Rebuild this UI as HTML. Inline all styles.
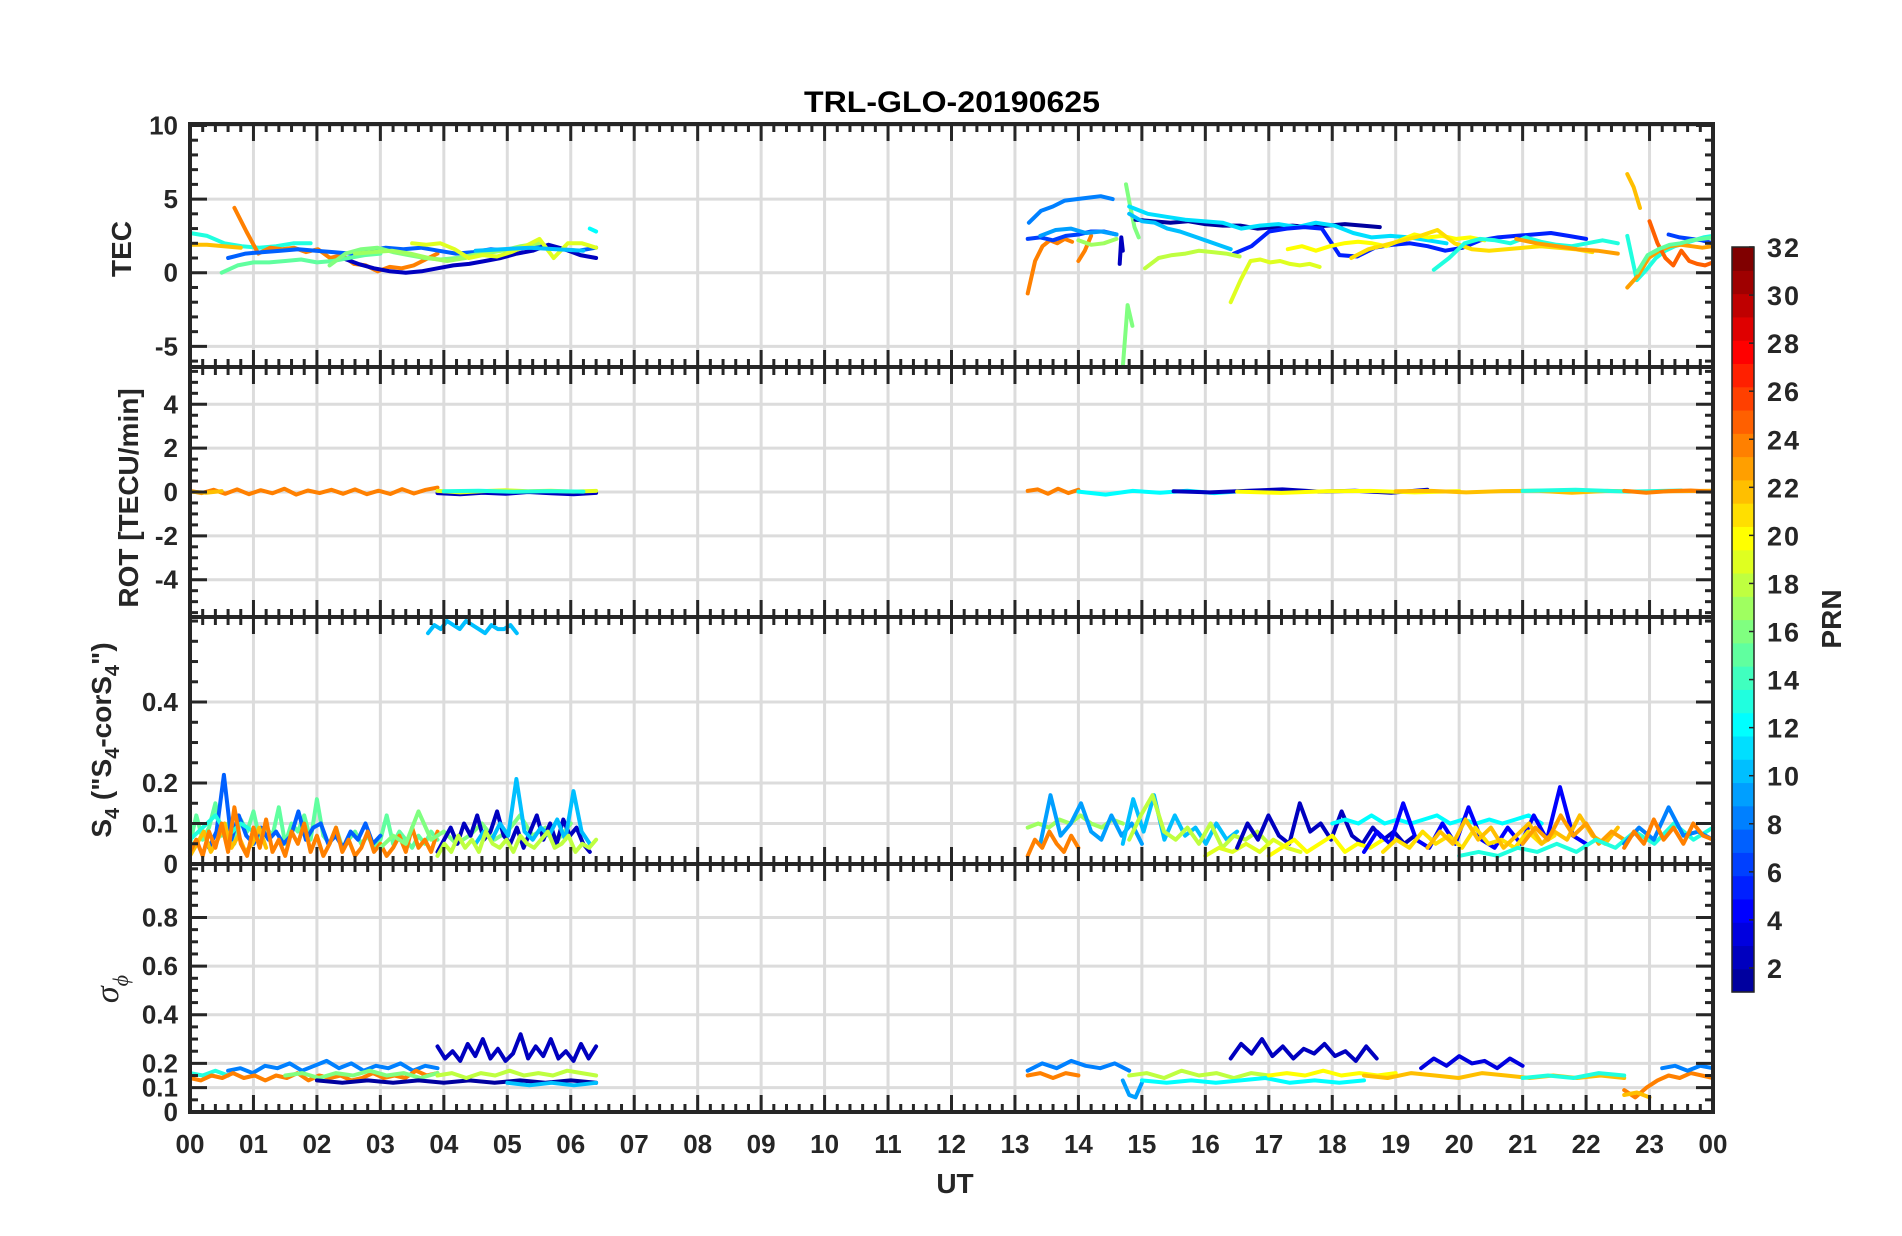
<!DOCTYPE html>
<html><head><meta charset="utf-8"><title>TRL-GLO-20190625</title>
<style>
html,body{margin:0;padding:0;background:#fff;}
svg{display:block;font-family:"Liberation Sans",Arial,sans-serif;}
</style></head>
<body>
<svg id="chart" width="1902" height="1236" viewBox="0 0 1902 1236" xmlns="http://www.w3.org/2000/svg">
<text x="952" y="112" text-anchor="middle" font-size="30" font-weight="bold" fill="#000" textLength="296" lengthAdjust="spacingAndGlyphs">TRL-GLO-20190625</text>
<g id="layers"></g>
</svg>
<script>
// ---------- data ----------
const hourTicks = ["00","01","02","03","04","05","06","07","08","09","10","11","12","13","14","15","16","17","18","19","20","21","22","23","00"];
const cbTicks = [2,4,6,8,10,12,14,16,18,20,22,24,26,28,30,32];

// TEC panel
const tecPrn   = [13,22,24,7,2,15,16,17,19,12,10, 8,24,24,6,9,17,16,16,2,1,10,11,5,18,19,20,21,13,23,22,13,23,25,6,15];
const tecStart = [0,0,0.7,0.6,2.4,0.5,2.2,2.6,3.5,6.3,4.5, 13.22,13.2,14.0,13.2,13.4,14.0,14.75,14.7,14.65,14.9,14.8,14.8,16.45,15.05,16.4,17.3,18.3,19.6,20.9,22.65,22.65,22.65,23.0,23.3,22.8];
const tecEnd   = [1.9,0.8,3.9,6.4,6.4,3.0,4.7,5.5,6.4,6.4,6.2, 14.54,13.9,14.2,14.6,14.6,14.6,14.95,14.85,14.7,18.75,16.4,19.8,22.0,16.54,17.8,20.4,22.1,22.5,22.5,22.85,24,24,24,24,24];
const tecVals = [
 [2.7,2.5,2.0,1.8,1.7,1.8,2.0,2.0],
 [1.9,1.9,1.8,1.7],
 [4.4,2.8,1.3,1.7,1.6,1.7,1.4,1.6,1.0,1.2,0.6,0.5,0.1,0.4,0.3,0.5,0.9,1.3],
 [1.0,1.3,1.4,1.5,1.6,1.5,1.4,1.3,1.5,1.7,1.6,1.7,1.5,1.3,1.4,1.6,1.5,1.7,1.8,1.6,1.5,1.7],
 [1.0,0.6,0.3,0.1,0.0,0.1,0.3,0.5,0.6,0.8,1.0,1.3,1.5,1.9,1.6,1.2,1.0],
 [0.0,0.5,0.7,0.7,0.8,0.9,0.7,0.8,1.0,1.2,1.3],
 [0.5,1.3,1.6,1.7,1.4,1.2,1.0,0.9,1.0,1.2,1.4],
 [1.3,1.4,1.5,1.3,1.0,0.8,1.0,1.3,1.5,1.8,2.0],
 [2.0,1.9,2.0,1.6,1.0,1.2,1.1,1.4,1.8,2.3,1.0,2.0,2.0,1.7],
 [3.0,2.8],
 [1.5,1.6,1.7,1.6,1.5],
 [3.4,4.2,4.5,4.9,5.0,5.1,5.2,5.0],
 [-1.4,0.8,1.8,2.2,2.0,2.3,2.1],
 [0.8,1.5,2.5],
 [2.3,2.4,2.2,2.5,2.6,2.8,2.8,2.6],
 [2.5,2.9,3.0,2.7,2.8,2.6],
 [2.2,1.9,2.0,2.3],
 [6.0,4.5,3.1,2.4],
 [-6.6,-2.2,-3.6],
 [0.6,2.4,1.5],
 [3.6,3.5,3.4,3.5,3.3,3.2,3.2,3.0,3.1,3.2,3.1,3.2,3.3,3.2,3.1],
 [4.0,3.5,3.4,3.0,2.8,2.5,2.2,1.9,1.6],
 [4.5,4.0,3.8,3.6,3.5,3.4,3.0,3.2,3.3,3.1,3.4,3.2,2.7,2.4,2.5,2.4,2.2,2.0],
 [1.3,1.8,2.8,3.0,3.1,3.0,1.2,1.1,1.7,1.9,2.0,1.8,1.5,1.7,2.2,2.4,2.5,2.6,2.7,2.5,2.3],
 [0.3,1.0,1.2,1.3,1.5,1.4,1.3,1.1],
 [-2.0,-0.5,0.8,0.9,0.7,0.8,0.6,0.5,0.6,0.4],
 [1.6,1.8,1.5,1.8,2.0,2.1,2.0,1.8,2.2,2.6,2.4,2.5,2.3,2.4,2.2],
 [1.0,1.6,1.9,2.2,2.5,2.9,2.0,1.6,1.5,1.6,1.7,1.8,1.7,1.6,1.4],
 [0.2,1.0,2.0,2.3,2.2,2.0,2.4,2.1,1.9,1.8,2.0,2.2,2.0],
 [2.3,2.0,1.8,1.6,1.5,1.3],
 [6.7,5.8,4.4],
 [2.5,-0.5,0.2,1.0,1.5,1.8,2.0,2.2,2.4,2.5],
 [-1.0,-0.2,1.0,1.5,1.8,1.9,1.8,1.7,1.8],
 [3.5,2.0,1.0,0.5,1.5,0.8,0.6,0.5,0.7],
 [2.6,2.4,2.3,2.2,2.0],
 [0.0,1.2,1.6,1.9,2.0,2.2,2.3,2.4]
];

// ROT panel
const rotPrn   = [24,22,2,19,13,24,12,2,20,22,13,24];
const rotStart = [0,0,3.9,3.9,4.0,13.2,14.0,15.5,16.5,19,21,22.6];
const rotEnd   = [3.9,0.5,6.4,6.4,6.2,14,17,19.5,20,24,23.5,24];
const rotVals = [
 [0.05,-0.05,0.1,-0.08,0.12,-0.1,0.08,-0.06,0.15,-0.12,0.07,-0.05,0.1,-0.08,0.12,-0.1,0.06,-0.09,0.13,-0.07,0.1,0.2],
 [0.02,-0.03,0.04],
 [-0.05,-0.1,-0.03,-0.08,0,-0.06,-0.1,-0.04],
 [0.05,-0.02,0.04,0.08,0.03,0.06,0.02,0.05],
 [0.03,0.06,0.01,0.04,0.02],
 [0.05,0.12,-0.08,0.15,-0.05,0.1],
 [0.02,-0.12,0.05,-0.03,0.06,-0.05,0.04,0.01],
 [0.03,-0.02,0.05,0.12,0.02,0.06,-0.03,0.1],
 [0.02,-0.04,0.03,0.05,-0.02,0.04],
 [0.03,0.05,-0.02,0.04,0.06,-0.03,0.05,0.02,0.04,0.06],
 [0.05,0.1,0.02,0.07],
 [0.05,-0.03,0.04,0.07,0.01]
];

// S4 panel
const s4Prn   = [15,7,13,22,24,16,2,10,18,10, 17,9,10,18,19,2,20,12,4,21,22,23,13,8,24,24];
const s4Start = [0,0.3,0,0,0,3.0,3.9,4.5,3.9,3.75, 13.2,13.4,14.7,14.8,16.0,16.5,17.0,18.0,18.5,18.8,19.5,21.0,20.0,22.6,13.2,22.6];
const s4End   = [3.9,3.0,1.0,1.2,3.9,6.0,6.3,6.3,6.4,5.15, 14.7,15.0,16.5,17.0,17.5,19.3,18.8,21.3,22.0,21.5,22.5,22.6,24,24,14.0,24];
const s4Vals = [
 [0.05,0.12,0.06,0.09,0.15,0.07,0.1,0.05,0.11,0.08,0.13,0.06,0.09,0.07,0.14,0.05,0.1,0.08,0.12,0.06,0.16,0.07,0.05,0.09,0.04,0.06,0.08,0.05,0.07,0.04,0.06,0.12,0.05,0.08,0.06,0.04,0.07,0.05,0.08,0.06],
 [0.04,0.08,0.22,0.06,0.12,0.07,0.05,0.09,0.06,0.08,0.05,0.07,0.13,0.06,0.09,0.1,0.05,0.07,0.04,0.08,0.06,0.1,0.05,0.07],
 [0.06,0.09,0.12,0.07,0.1,0.08],
 [0.02,0.05,0.08,0.03,0.06,0.1,0.04,0.07,0.03,0.05,0.09,0.04],
 [0.03,0.06,0.02,0.08,0.04,0.1,0.03,0.14,0.05,0.02,0.09,0.04,0.11,0.03,0.06,0.02,0.08,0.05,0.1,0.03,0.07,0.02,0.05,0.09,0.03,0.06,0.02,0.04,0.08,0.03,0.05,0.02,0.04,0.07,0.03,0.09,0.04,0.06,0.03,0.08],
 [0.04,0.07,0.05,0.13,0.06,0.08,0.05,0.07,0.1,0.06,0.08,0.12,0.07,0.09,0.06,0.1],
 [0.03,0.06,0.09,0.05,0.1,0.07,0.12,0.06,0.08,0.13,0.07,0.05,0.09,0.04,0.08,0.12,0.06,0.1,0.05,0.11,0.07,0.09,0.05,0.03],
 [0.05,0.08,0.06,0.1,0.07,0.21,0.08,0.06,0.09,0.07,0.11,0.06,0.18,0.08,0.05],
 [0.02,0.05,0.03,0.07,0.04,0.06,0.03,0.08,0.05,0.04,0.06,0.03,0.07,0.05,0.04,0.06,0.08,0.04,0.05,0.07,0.03,0.05,0.04,0.06],
 [0.57,0.59,0.58,0.6,0.59,0.58,0.6,0.59,0.58,0.57,0.59,0.58,0.58,0.59,0.57],
 [0.09,0.1,0.09,0.11,0.1,0.12,0.1,0.09,0.11,0.1],
 [0.05,0.17,0.07,0.1,0.15,0.08,0.06,0.12,0.07,0.1,0.05],
 [0.05,0.16,0.08,0.17,0.06,0.12,0.07,0.09,0.05,0.1,0.06,0.08],
 [0.06,0.12,0.17,0.08,0.06,0.09,0.05,0.1,0.04,0.07,0.06,0.08,0.05],
 [0.02,0.04,0.03,0.05,0.03,0.06,0.04,0.03],
 [0.04,0.1,0.06,0.12,0.07,0.05,0.15,0.08,0.1,0.06,0.13,0.07,0.05,0.09,0.06,0.08,0.05,0.07],
 [0.02,0.04,0.06,0.03,0.05,0.07,0.03,0.05,0.04,0.06],
 [0.1,0.11,0.1,0.12,0.1,0.11,0.1,0.11,0.12,0.1,0.11,0.1,0.11,0.1,0.11,0.12,0.1],
 [0.03,0.08,0.05,0.15,0.06,0.04,0.1,0.05,0.14,0.06,0.04,0.09,0.05,0.12,0.06,0.19,0.07,0.05],
 [0.03,0.06,0.04,0.08,0.05,0.07,0.04,0.09,0.05,0.06,0.04,0.08,0.05,0.07],
 [0.04,0.08,0.05,0.11,0.06,0.09,0.04,0.07,0.1,0.05,0.08,0.06,0.12,0.07,0.05,0.09],
 [0.05,0.09,0.06,0.12,0.07,0.1,0.05,0.08,0.06],
 [0.02,0.03,0.02,0.04,0.03,0.05,0.03,0.06,0.04,0.08,0.05,0.1,0.06,0.09],
 [0.05,0.09,0.06,0.14,0.07,0.08,0.06],
 [0.02,0.06,0.04,0.08,0.05,0.03,0.07,0.04],
 [0.04,0.08,0.05,0.11,0.06,0.09,0.05,0.1,0.07,0.06]
];

// sigma-phi panel
const sigPrn   = [8,13,24,16,1,2,18,10, 8,24,9,18,12,2,20,3,22,13,24,22,8];
const sigStart = [0.6,0,0,1.5,2.0,3.9,3.9,5.0, 13.2,13.2,14.7,14.8,15.0,16.4,17.0,19.4,18.5,21.0,22.6,22.6,23.2];
const sigEnd   = [3.9,0.6,3.9,3.9,6.4,6.4,6.4,6.4, 14.8,14.0,15.0,17.0,18.5,18.7,19.0,21.0,22.6,22.6,24,23.0,24];
const sigVals = [
 [0.17,0.18,0.16,0.19,0.18,0.2,0.17,0.19,0.21,0.18,0.2,0.17,0.19,0.18,0.2,0.17,0.19,0.18],
 [0.16,0.15,0.17,0.15],
 [0.14,0.13,0.15,0.14,0.16,0.14,0.15,0.13,0.15,0.14,0.16,0.13,0.15,0.14,0.15,0.13,0.14,0.16,0.14,0.15,0.14,0.17,0.15,0.16],
 [0.15,0.16,0.14,0.16,0.15,0.17,0.15,0.16,0.14,0.16],
 [0.13,0.12,0.13,0.12,0.13,0.12,0.13,0.12,0.13,0.12,0.13,0.12],
 [0.27,0.22,0.25,0.21,0.28,0.23,0.3,0.22,0.26,0.21,0.24,0.32,0.22,0.27,0.23,0.3,0.22,0.25,0.21,0.28,0.22,0.27],
 [0.15,0.16,0.14,0.16,0.15,0.17,0.15,0.16,0.15,0.17,0.16,0.15],
 [0.12,0.11,0.12,0.11,0.12],
 [0.17,0.2,0.18,0.21,0.19,0.18,0.2,0.17],
 [0.15,0.16,0.14,0.16,0.15],
 [0.13,0.07,0.06,0.12],
 [0.15,0.16,0.14,0.17,0.15,0.16,0.14,0.16,0.15],
 [0.13,0.12,0.13,0.12,0.13,0.14,0.12,0.13,0.12,0.13],
 [0.22,0.28,0.24,0.3,0.23,0.27,0.22,0.26,0.24,0.28,0.23,0.25,0.21,0.27,0.22],
 [0.15,0.16,0.15,0.17,0.15,0.16,0.15,0.16],
 [0.18,0.22,0.19,0.23,0.2,0.21,0.18,0.22,0.19],
 [0.15,0.14,0.16,0.15,0.14,0.16,0.15,0.14,0.15,0.14,0.15,0.14],
 [0.14,0.15,0.14,0.16,0.15],
 [0.09,0.06,0.1,0.13,0.15,0.14,0.16,0.15,0.14],
 [0.07,0.08,0.06],
 [0.18,0.19,0.17,0.19,0.18]
];

// ---------- rendering ----------
const NS = "http://www.w3.org/2000/svg";
const X0 = 190, X1 = 1713;
const INK = "#262626";
function xs(h){ return X0 + (X1 - X0) * h / 24; }
function jet(m){
  const n = Math.ceil(m/4), u = [];
  for(let i=1;i<=n;i++) u.push(i/n);
  for(let i=1;i<n;i++) u.push(1);
  for(let i=n;i>=1;i--) u.push(i/n);
  const off = Math.ceil(n/2) - (m%4===1?1:0);
  const J = []; for(let i=0;i<m;i++) J.push([0,0,0]);
  for(let k=0;k<u.length;k++){
    const g=off+k+1, r=g+n, b=g-n;
    if(g>=1&&g<=m) J[g-1][1]=u[k];
    if(r>=1&&r<=m) J[r-1][0]=u[k];
    if(b>=1&&b<=m) J[b-1][2]=u[k];
  }
  return J.map(c=>"rgb("+c.map(v=>Math.round(v*255)).join(",")+")");
}
const CMAP = jet(32);
function colorOf(prn){ return CMAP[Math.max(1,Math.min(32,Math.round(prn)))-1]; }
const root = document.getElementById("layers");
function el(tag, attrs, parent){
  const e = document.createElementNS(NS, tag);
  for(const k in attrs) e.setAttribute(k, attrs[k]);
  (parent||root).appendChild(e); return e;
}

const panels = [
  {key:"tec", top:124, bot:367, lo:-6.4, hi:10.1, ticks:[10,5,0,-5], labels:["10","5","0","-5"], minor:1, prn:tecPrn, st:tecStart, en:tecEnd, vals:tecVals},
  {key:"rot", top:367, bot:617, lo:-5.7, hi:5.7, ticks:[4,2,0,-2,-4], labels:["4","2","0","-2","-4"], minor:0.5, prn:rotPrn, st:rotStart, en:rotEnd, vals:rotVals},
  {key:"s4", top:617, bot:864, lo:0, hi:0.61, ticks:[0.4,0.2,0.1,0], labels:["0.4","0.2","0.1","0"], minor:0.05, prn:s4Prn, st:s4Start, en:s4End, vals:s4Vals},
  {key:"sigma", top:864, bot:1112, lo:0, hi:1.02, ticks:[0.8,0.6,0.4,0.2,0.1,0], labels:["0.8","0.6","0.4","0.2","0.1","0"], minor:0.05, prn:sigPrn, st:sigStart, en:sigEnd, vals:sigVals}
];

panels.forEach(p=>{
  const ys = v => p.bot - (p.bot - p.top) * (v - p.lo) / (p.hi - p.lo);
  const g = el("g", {});
  
  
  const grid = el("g", {stroke:"#dcdcdc","stroke-width":"3"}, g);
  
  
  for(let h=1;h<24;h++) el("line",{x1:xs(h),x2:xs(h),y1:p.top,y2:p.bot},grid);
  p.ticks.forEach(t=>{ el("line",{x1:X0,x2:X1,y1:ys(t),y2:ys(t)},grid); });
  const sg = el("g", {fill:"none","stroke-width":"4","stroke-linejoin":"round","stroke-linecap":"round"}, g);
  
  
  p.vals.forEach((vals,i)=>{
    const t0=p.st[i], t1=p.en[i], n=vals.length;
    const pts = vals.map((v,k)=>{
      const h = n>1 ? t0 + (t1-t0)*k/(n-1) : t0;
      return xs(h).toFixed(1)+","+ys(Math.max(p.lo,Math.min(p.hi,v))).toFixed(1);
    }).join(" ");
    const pl = el("polyline",{points:pts,stroke:colorOf(p.prn[i])},sg);
    
    
  });
  const tk = el("g",{stroke:INK,"stroke-width":"3"},g);
  
  
  for(let m=0;m<=120;m++){
    const x = X0 + (X1-X0)*m/120, major = m%5===0, L = major?17:8;
    el("line",{x1:x,x2:x,y1:p.top,y2:p.top+L},tk);
    el("line",{x1:x,x2:x,y1:p.bot,y2:p.bot-L},tk);
  }
  const start = Math.ceil(p.lo/p.minor - 1e-6);
  for(let k=start;k*p.minor<=p.hi+1e-9;k++){
    const v = k*p.minor, y = ys(v);
    const major = p.ticks.some(t=>Math.abs(t-v)<1e-9);
    const L = major?17:8;
    el("line",{x1:X0,x2:X0+L,y1:y,y2:y},tk);
    el("line",{x1:X1,x2:X1-L,y1:y,y2:y},tk);
  }
  const fr = el("rect",{x:X0,y:p.top,width:X1-X0,height:p.bot-p.top,fill:"none",stroke:INK,"stroke-width":"4"},g);
  
  
  p.ticks.forEach((t,i)=>{
    const tx = el("text",{x:178,y:ys(t)+9,"text-anchor":"end","font-size":"26","font-weight":"bold",fill:INK},g);
    tx.textContent = p.labels[i];
    
    
  });
});

hourTicks.forEach((lab,i)=>{
  const t = el("text",{x:xs(i),y:1153,"text-anchor":"middle","font-size":"26","font-weight":"bold",fill:INK});
  t.textContent = lab;
  
  
});
const xt = el("text",{x:955,y:1193,"text-anchor":"middle","font-size":"28","font-weight":"bold",fill:INK});
xt.textContent = "UT";



function ytitle(name, x, y, html, size){
  const t = el("text",{x:0,y:0,transform:"translate("+x+","+y+") rotate(-90)","text-anchor":"middle","font-size":size||"28","font-weight":"bold",fill:INK});
  t.innerHTML = html;
  
  
  return t;
}
ytitle("tec-y-title",131,249,"TEC");
ytitle("rot-y-title",138,498,"ROT [TECU/min]");
ytitle("s4-y-title",111,740,'S<tspan font-size="20" dy="8">4</tspan><tspan dy="-8"> ("S</tspan><tspan font-size="20" dy="8">4</tspan><tspan dy="-8">-corS</tspan><tspan font-size="20" dy="8">4</tspan><tspan dy="-8">")</tspan>');
ytitle("sigma-y-title",118,989,'<tspan font-style="italic" font-weight="normal" font-family="Liberation Serif, serif">σ</tspan><tspan font-size="22" dy="10" font-style="italic" font-weight="normal" font-family="Liberation Serif, serif">ϕ</tspan>',"34");

const CB = {x:1732, w:22, top:247, bot:992, lo:1, hi:32};
const cbg = el("g",{});


const band = (CB.bot-CB.top)/32;
for(let i=0;i<32;i++){
  const r = el("rect",{x:CB.x,y:(CB.bot-(i+1)*band).toFixed(2),width:CB.w,height:(band+0.6).toFixed(2),fill:CMAP[i]},cbg);
  
  
}
el("rect",{x:CB.x,y:CB.top,width:CB.w,height:CB.bot-CB.top,fill:"none",stroke:INK,"stroke-width":"1.5"},cbg);
cbTicks.forEach(v=>{
  const y = CB.bot - (CB.bot-CB.top)*(v-CB.lo)/(CB.hi-CB.lo);
  el("line",{x1:CB.x+CB.w-5,x2:CB.x+CB.w,y1:y,y2:y,stroke:INK,"stroke-width":"1.5"},cbg);
  const t = el("text",{x:1767,y:y+10,"font-size":"27","font-weight":"bold",fill:INK,"letter-spacing":"2"},cbg);
  t.textContent = v;
  
  
});
const pl = el("text",{x:0,y:0,transform:"translate(1841,619) rotate(-90)","text-anchor":"middle","font-size":"28","font-weight":"bold",fill:INK},cbg);
pl.textContent = "PRN";


</script>
</body></html>
